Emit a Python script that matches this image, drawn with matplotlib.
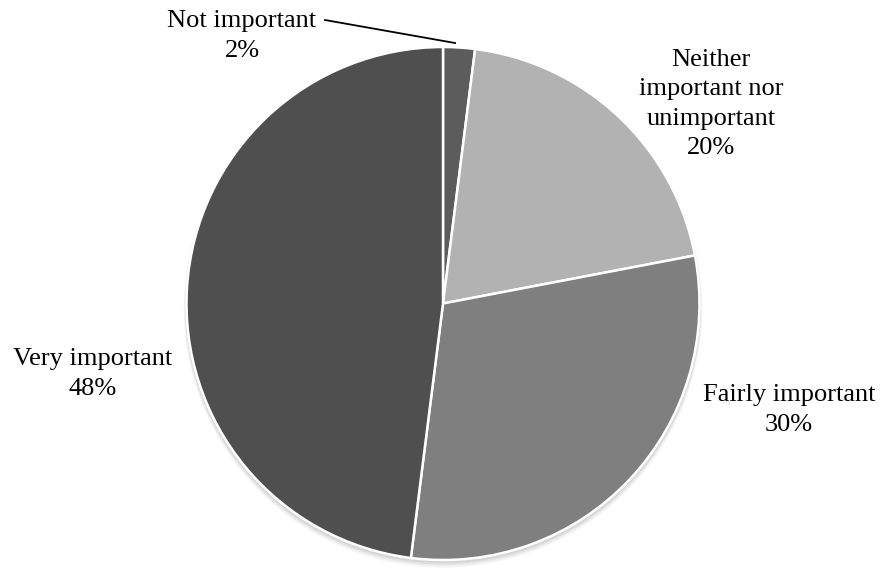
import numpy as np
import matplotlib.pyplot as plt
from matplotlib.patches import Circle

categories = ['Not important', 'Neither\nimportant nor\nunimportant', 'Fairly important', 'Very important']
shares = [2, 20, 30, 48]
colors = ['#5c5c5c', '#b2b2b2', '#7f7f7f', '#4f4f4f']

W, H = 881, 568
fig = plt.figure(figsize=(W / 100, H / 100), dpi=100)
ax = fig.add_axes([0, 0, 1, 1])
ax.set_xlim(0, W)
ax.set_ylim(0, H)
ax.set_aspect('equal')
ax.axis('off')

cx, cy, r = 443, H - 303.5, 256.5

# soft drop shadow under the pie
for i, a in enumerate([0.05, 0.05, 0.04, 0.03]):
    ax.add_patch(Circle((cx, cy - 2 - i), r + 1 + i * 0.6, color='black', alpha=a, lw=0, zorder=0))

wedges, _ = ax.pie(shares, colors=colors, startangle=90, counterclock=False,
                   center=(cx, cy), radius=r, frame=True,
                   wedgeprops=dict(edgecolor='white', linewidth=1.8))
ax.set_xlim(0, W)
ax.set_ylim(0, H)
ax.axis('off')
for w in wedges:
    w.set_zorder(2)

plt.rcParams['font.family'] = ['Liberation Serif', 'DejaVu Serif']
fs = 19
label_pos = [(242, H - 36), (711, H - 104), (789, H - 410), (93, H - 374)]
for name, val, (x, y) in zip(categories, shares, label_pos):
    ax.text(x, y, f'{name}\n{val}%', ha='center', va='center', fontsize=fs,
            linespacing=1.42, color='black', zorder=5)

# leader line for the smallest slice
ax.plot([325, 455], [H - 20, H - 43], color='black', lw=1.3, zorder=5)

fig.savefig('out.png', dpi=100, facecolor='white')
